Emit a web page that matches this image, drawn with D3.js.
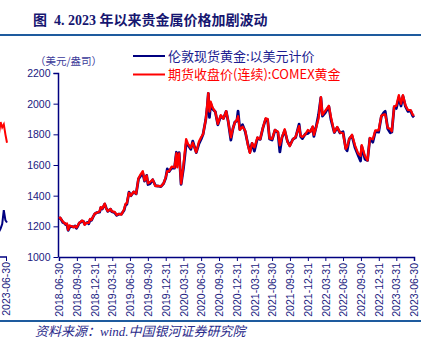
<!DOCTYPE html>
<html><head><meta charset="utf-8">
<script src="https://cdn.jsdelivr.net/npm/d3@7"></script>
<style>
html,body{margin:0;padding:0;background:#fff;}
svg{display:block;}
</style></head><body>
<svg id="chart" width="432" height="338"></svg>
<script>
// Gold prices, USD per troy ounce
const dates = [
"2018-06-29","2018-07-06","2018-07-13","2018-07-20","2018-07-27","2018-08-03","2018-08-10","2018-08-16","2018-08-24","2018-08-31",
"2018-09-07","2018-09-14","2018-09-21","2018-09-28","2018-10-05","2018-10-12","2018-10-19","2018-10-26","2018-11-02","2018-11-09",
"2018-11-16","2018-11-23","2018-11-30","2018-12-07","2018-12-14","2018-12-21","2018-12-31","2019-01-11","2019-01-25","2019-01-31",
"2019-02-08","2019-02-20","2019-02-28","2019-03-08","2019-03-22","2019-03-29","2019-04-12","2019-04-23","2019-05-03","2019-05-17",
"2019-05-31","2019-06-07","2019-06-14","2019-06-25","2019-07-05","2019-07-19","2019-08-01","2019-08-13","2019-08-23","2019-09-04",
"2019-09-13","2019-09-24","2019-10-01","2019-10-11","2019-10-25","2019-11-08","2019-11-22","2019-12-06","2019-12-20","2019-12-31",
"2020-01-08","2020-01-17","2020-01-31","2020-02-14","2020-02-24","2020-02-28","2020-03-09","2020-03-19","2020-03-31","2020-04-14",
"2020-04-24","2020-05-08","2020-05-18","2020-06-05","2020-06-19","2020-06-30","2020-07-10","2020-07-24","2020-07-31","2020-08-06",
"2020-08-12","2020-08-18","2020-08-28","2020-09-11","2020-09-24","2020-10-09","2020-10-23","2020-11-06","2020-11-16","2020-11-30",
"2020-12-11","2020-12-21","2020-12-31","2021-01-06","2021-01-15","2021-01-29","2021-02-12","2021-02-26","2021-03-08","2021-03-19",
"2021-03-31","2021-04-16","2021-04-30","2021-05-14","2021-05-28","2021-06-07","2021-06-17","2021-06-30","2021-07-15","2021-07-30",
"2021-08-09","2021-08-20","2021-09-03","2021-09-17","2021-09-29","2021-10-15","2021-10-29","2021-11-16","2021-11-24","2021-12-03",
"2021-12-17","2021-12-31","2022-01-14","2022-01-25","2022-01-31","2022-02-11","2022-02-24","2022-03-08","2022-03-16","2022-03-31",
"2022-04-18","2022-04-29","2022-05-16","2022-05-31","2022-06-14","2022-06-30","2022-07-14","2022-07-21","2022-08-01","2022-08-15",
"2022-08-31","2022-09-15","2022-09-28","2022-10-04","2022-10-21","2022-11-03","2022-11-15","2022-11-30","2022-12-13","2022-12-30",
"2023-01-13","2023-01-26","2023-02-02","2023-02-15","2023-02-28","2023-03-08","2023-03-20","2023-03-31","2023-04-13","2023-04-24",
"2023-05-04","2023-05-17","2023-05-30","2023-06-13","2023-06-23","2023-06-30"
];
const londonSpot = [
1250,1255,1241,1225,1222,1212,1211,1174,1195,1200,
1197,1197,1203,1187,1202,1222,1226,1235,1232,1214,
1221,1226,1217,1244,1239,1258,1281,1290,1292,1321,
1313,1345,1319,1298,1312,1295,1290,1272,1279,1280,
1305,1339,1344,1423,1400,1424,1412,1510,1527,1546,
1495,1532,1473,1478,1504,1466,1463,1459,1479,1515,
1574,1557,1582,1580,1683,1609,1680,1474,1577,1738,
1731,1702,1756,1681,1739,1768,1800,1896,1970,2067,
1911,2001,1965,1947,1862,1919,1904,1950,1886,1763,
1838,1881,1887,1951,1833,1863,1817,1734,1683,1741,
1691,1776,1767,1842,1899,1896,1770,1763,1827,1813,
1685,1780,1825,1755,1726,1768,1779,1866,1785,1772,
1801,1806,1820,1847,1787,1845,1927,2039,1919,1942,
1982,1896,1812,1845,1809,1817,1706,1693,1770,1792,
1712,1665,1626,1722,1638,1630,1774,1749,1817,1814,
1916,1942,1950,1836,1810,1815,1979,1969,2040,1985,
2050,1982,1949,1953,1921,1912
];
const comexFutures = [
1254,1257,1242,1231,1223,1214,1219,1177,1206,1201,
1199,1194,1201,1192,1206,1222,1229,1237,1234,1210,
1223,1223,1223,1249,1242,1259,1283,1289,1299,1325,
1316,1348,1316,1299,1313,1298,1295,1274,1281,1277,
1311,1346,1352,1419,1400,1426,1413,1514,1537,1560,
1499,1531,1480,1489,1505,1462,1464,1460,1481,1520,
1560,1560,1589,1584,1677,1585,1675,1478,1597,1768,
1736,1713,1745,1683,1753,1781,1801,1897,1985,2069,
1949,2013,1974,1947,1868,1925,1902,1951,1887,1780,
1840,1879,1895,1918,1829,1850,1824,1728,1679,1742,
1715,1780,1769,1844,1905,1899,1774,1771,1829,1817,
1729,1781,1833,1753,1723,1767,1783,1853,1789,1783,
1798,1828,1817,1852,1796,1842,1903,2043,1927,1954,
1986,1911,1814,1848,1813,1807,1705,1719,1771,1797,
1726,1677,1660,1730,1657,1630,1776,1768,1825,1826,
1921,1930,1930,1842,1836,1820,1982,1986,2055,1999,
2055,1989,1959,1958,1929,1921
];
const tickDates = [
"2018-06-30","2018-09-30","2018-12-31","2019-03-31","2019-06-30","2019-09-30","2019-12-31",
"2020-03-31","2020-06-30","2020-09-30","2020-12-31","2021-03-31","2021-06-30","2021-09-30",
"2021-12-31","2022-03-31","2022-06-30","2022-09-30","2022-12-31","2023-03-31","2023-06-30"
];
const yTicks = [1000,1200,1400,1600,1800,2000,2200];
const seriesNames = ["伦敦现货黄金:以美元计价","期货收盘价(连续):COMEX黄金"];
const seriesColors = ["#000080","#ff0000"];

// Tail of the adjoining panel, visible at the left edge
const edgeSteps = [0,1,2,3,4,5];
const edgeRed = [1805,1880,1845,1865,1800,1745];
const edgeBlue = [1165,1185,1215,1305,1240,1225];

const parse = d3.timeParse("%Y-%m-%d");
const svg = d3.select("#chart");

const x = d3.scaleTime()
  .domain([parse(tickDates[0]), parse(tickDates[tickDates.length - 1])])
  .range([59, 414]);
const y = d3.scaleLinear().domain([1000, 2200]).range([257, 73]);

// Header and rules
svg.append("text")
  .attr("x", 33).attr("y", 25)
  .attr("font-family", "'Liberation Serif','Noto Sans CJK SC',serif")
  .attr("font-weight", "bold").attr("font-size", 14)
  .attr("fill", "#161670")
  .attr("xml:space", "preserve")
  .text("图  4. 2023 年以来贵金属价格加剧波动");

svg.append("line").attr("x1", 0).attr("x2", 421).attr("y1", 35).attr("y2", 35)
  .attr("stroke", "#1e5b9e").attr("stroke-width", 2);
svg.append("line").attr("x1", 0).attr("x2", 421).attr("y1", 321).attr("y2", 321)
  .attr("stroke", "#1e5b9e").attr("stroke-width", 2);

svg.append("text")
  .attr("x", 35).attr("y", 335.5)
  .attr("font-family", "'Liberation Serif','Noto Sans CJK SC',serif")
  .attr("font-style", "italic").attr("font-size", 13)
  .attr("fill", "#2a2a8a")
  .text("资料来源：wind.中国银河证券研究院");

// Unit label
svg.append("text")
  .attr("x", 35).attr("y", 65)
  .attr("font-family", "'Noto Sans CJK SC',sans-serif")
  .attr("font-size", 10.5).attr("fill", "#3a3a9a")
  .text("（美元/盎司）");

// Adjoining panel fragment
const edgeX = d3.scaleLinear().domain([0, 5]).range([-1, 7]);
const edge = svg.append("g");
edge.append("path").datum(edgeBlue)
  .attr("fill", "none").attr("stroke", seriesColors[0]).attr("stroke-width", 2)
  .attr("d", d3.line().x((d, i) => edgeX(edgeSteps[i])).y(d => y(d)));
edge.append("path").datum(edgeRed)
  .attr("fill", "none").attr("stroke", seriesColors[1]).attr("stroke-width", 2)
  .attr("d", d3.line().x((d, i) => edgeX(edgeSteps[i])).y(d => y(d)));
edge.append("line").attr("x1", 0).attr("x2", 7).attr("y1", 257).attr("y2", 257)
  .attr("stroke", "#000080").attr("stroke-width", 1.5);
edge.append("line").attr("x1", 6.5).attr("x2", 6.5).attr("y1", 257).attr("y2", 261)
  .attr("stroke", "#000080").attr("stroke-width", 1);
edge.append("text")
  .attr("transform", "translate(10,262) rotate(-90)")
  .attr("text-anchor", "end")
  .attr("font-family", "'Liberation Sans',Arial,sans-serif")
  .attr("font-size", 10.5).attr("fill", "#1a1a80")
  .text("2023-06-30");

// Axes
const yAxis = svg.append("g").attr("transform", "translate(58.5,0)")
  .call(d3.axisLeft(y).tickValues(yTicks).tickSize(5).tickPadding(3).tickFormat(d3.format("d")));
const xAxis = svg.append("g").attr("transform", "translate(0,257)")
  .call(d3.axisBottom(x).tickValues(tickDates.map(parse)).tickSize(4).tickFormat(d3.timeFormat("%Y-%m-%d")));

[yAxis, xAxis].forEach(g => {
  g.select(".domain").attr("stroke", "#000080").attr("stroke-width", 1.5);
  g.selectAll(".tick line").attr("stroke", "#000080");
  g.selectAll("text")
    .attr("font-family", "'Liberation Sans',Arial,sans-serif")
    .attr("font-size", 10.5).attr("fill", "#1a1a80");
});
yAxis.select(".domain").attr("d", "M-5,73.5H0V257");
xAxis.selectAll(".tick text")
  .attr("transform", "rotate(-90)")
  .attr("text-anchor", "end")
  .attr("x", -6).attr("y", 0).attr("dy", "0.35em");

// Price lines
const rows = dates.map((d, i) => ({ date: parse(d), spot: londonSpot[i], comex: comexFutures[i] }));
svg.append("path").datum(rows)
  .attr("fill", "none").attr("stroke", seriesColors[0]).attr("stroke-width", 2.8)
  .attr("stroke-linejoin", "round")
  .attr("d", d3.line().x(d => x(d.date)).y(d => y(d.spot)));
svg.append("path").datum(rows)
  .attr("fill", "none").attr("stroke", seriesColors[1]).attr("stroke-width", 2.3)
  .attr("stroke-linejoin", "round")
  .attr("d", d3.line().x(d => x(d.date)).y(d => y(d.comex)));

// Legend
const legend = svg.append("g");
seriesNames.forEach((name, i) => {
  const ly = 56 + i * 18.5;
  legend.append("line").attr("x1", 133).attr("x2", 165).attr("y1", ly).attr("y2", ly)
    .attr("stroke", seriesColors[i]).attr("stroke-width", 2);
  legend.append("text").attr("x", 168).attr("y", ly).attr("dy", "0.36em")
    .attr("font-family", "'Noto Sans CJK SC',sans-serif")
    .attr("font-size", 13)
    .attr("fill", i === 0 ? "#1c1c90" : "#ff0000")
    .text(name);
});
</script>
</body></html>
